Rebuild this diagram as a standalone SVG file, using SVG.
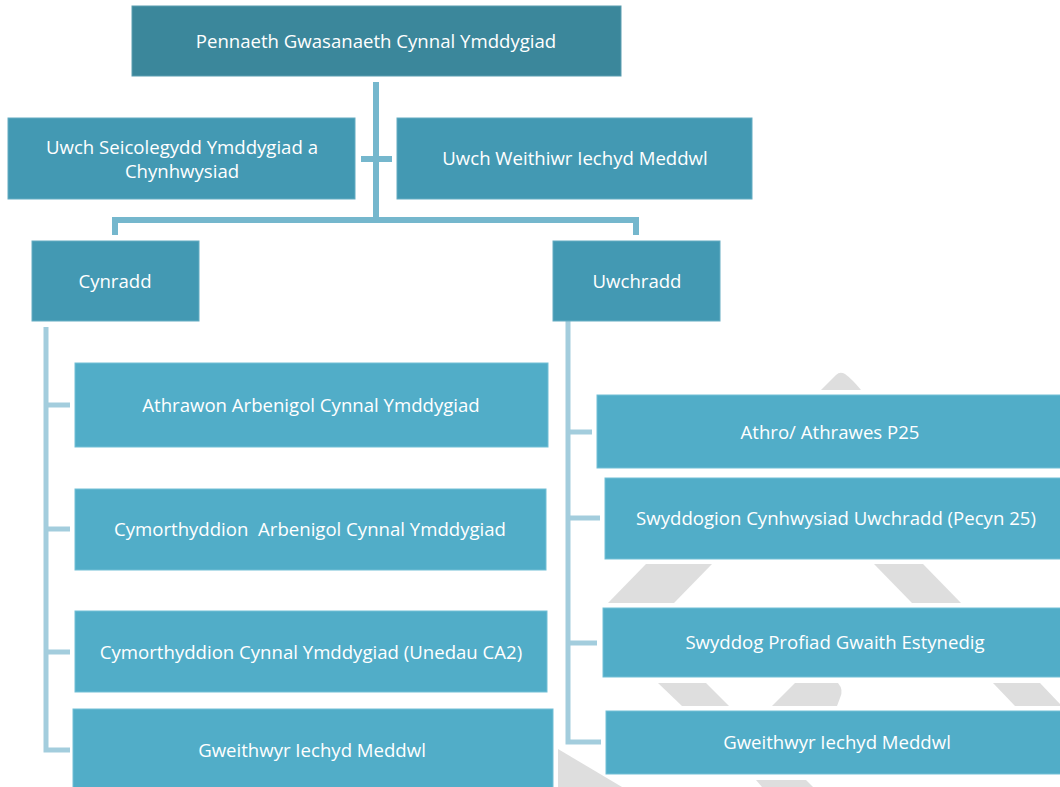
<svg xmlns="http://www.w3.org/2000/svg" width="1060" height="787" viewBox="0 0 1060 787">
<style>
text{font-family:"Open Sans","Noto Sans",sans-serif;font-size:18.6px;fill:#ffffff;text-anchor:middle;dominant-baseline:central}
.n0{fill:#3b879b;stroke:#5a9db0;stroke-width:1}
.n1{fill:#4399b3;stroke:#64acc2;stroke-width:1}
.n2{fill:#51adc8;stroke:#72bfd6;stroke-width:1}
.c1{stroke:#75b7cd;stroke-width:6;fill:none}
.c2{stroke:#a3cddd;stroke-width:5;fill:none}
.g{fill:#dedede}
</style>
<rect width="1060" height="787" fill="#ffffff"/>
<g id="decor">
<path class="g" d="M821,390 L836,375 Q840,371 845,374 Q852,379 861,390 Z"/>
<polygon class="g" points="608,603 674,603 712,564 646,564"/>
<polygon class="g" points="874,564 923,564 961,603 912,603"/>
<polygon class="g" points="658,683 706,683 729,706 682,706"/>
<path class="g" d="M772,706 L795,683 L838,683 Q844,690 840,698 L837,706 Z"/>
<polygon class="g" points="993,683 1040,683 1060,704 1060,706 1015,706"/>
<polygon class="g" points="558,749 622,787 558,787"/>
<polygon class="g" points="756,780 806,780 813,787 762,787"/>
</g>
<g id="connectors">
<path class="c1" d="M376,82 V220"/>
<path class="c1" d="M361,159 H392"/>
<path class="c1" d="M115,235 V220 H636 V235"/>
<path class="c2" d="M46,327 V750 H70 M46,405 H70 M46,529 H70 M46,652 H70"/>
<path class="c2" d="M568,321 V742 H601 M568,432 H592 M568,518 H600 M568,643 H597"/>
</g>
<g id="n-top"><rect class="n0" x="132" y="6" width="489" height="70"/><text x="376" y="40">Pennaeth Gwasanaeth Cynnal Ymddygiad</text></g>
<g id="n-seicolegydd"><rect class="n1" x="8" y="118" width="347" height="81"/><text x="182" y="146">Uwch Seicolegydd Ymddygiad a</text><text x="182" y="170">Chynhwysiad</text></g>
<g id="n-weithiwr"><rect class="n1" x="397" y="118" width="355" height="81"/><text x="575" y="157">Uwch Weithiwr Iechyd Meddwl</text></g>
<g id="n-cynradd"><rect class="n1" x="32" y="241" width="167" height="80"/><text x="115" y="280">Cynradd</text></g>
<g id="n-uwchradd"><rect class="n1" x="553" y="241" width="167" height="80"/><text x="637" y="280">Uwchradd</text></g>
<g id="n-athrawon"><rect class="n2" x="75" y="363" width="473" height="84"/><text x="311" y="404">Athrawon Arbenigol Cynnal Ymddygiad</text></g>
<g id="n-cymorth1"><rect class="n2" x="75" y="489" width="471" height="81"/><text x="310" y="528" xml:space="preserve">Cymorthyddion  Arbenigol Cynnal Ymddygiad</text></g>
<g id="n-cymorth2"><rect class="n2" x="75" y="611" width="472" height="81"/><text x="311" y="651">Cymorthyddion Cynnal Ymddygiad (Unedau CA2)</text></g>
<g id="n-gweithwyr1"><rect class="n2" x="73" y="709" width="480" height="90"/><text x="312" y="749">Gweithwyr Iechyd Meddwl</text></g>
<g id="n-athro"><rect class="n2" x="597" y="395" width="470" height="73"/><text x="830" y="431">Athro/ Athrawes P25</text></g>
<g id="n-swyddogion"><rect class="n2" x="605" y="478" width="462" height="81"/><text x="836" y="517">Swyddogion Cynhwysiad Uwchradd (Pecyn 25)</text></g>
<g id="n-profiad"><rect class="n2" x="603" y="608" width="464" height="69"/><text x="835" y="641">Swyddog Profiad Gwaith Estynedig</text></g>
<g id="n-gweithwyr2"><rect class="n2" x="606" y="711" width="461" height="63"/><text x="837" y="741">Gweithwyr Iechyd Meddwl</text></g>
</svg>
